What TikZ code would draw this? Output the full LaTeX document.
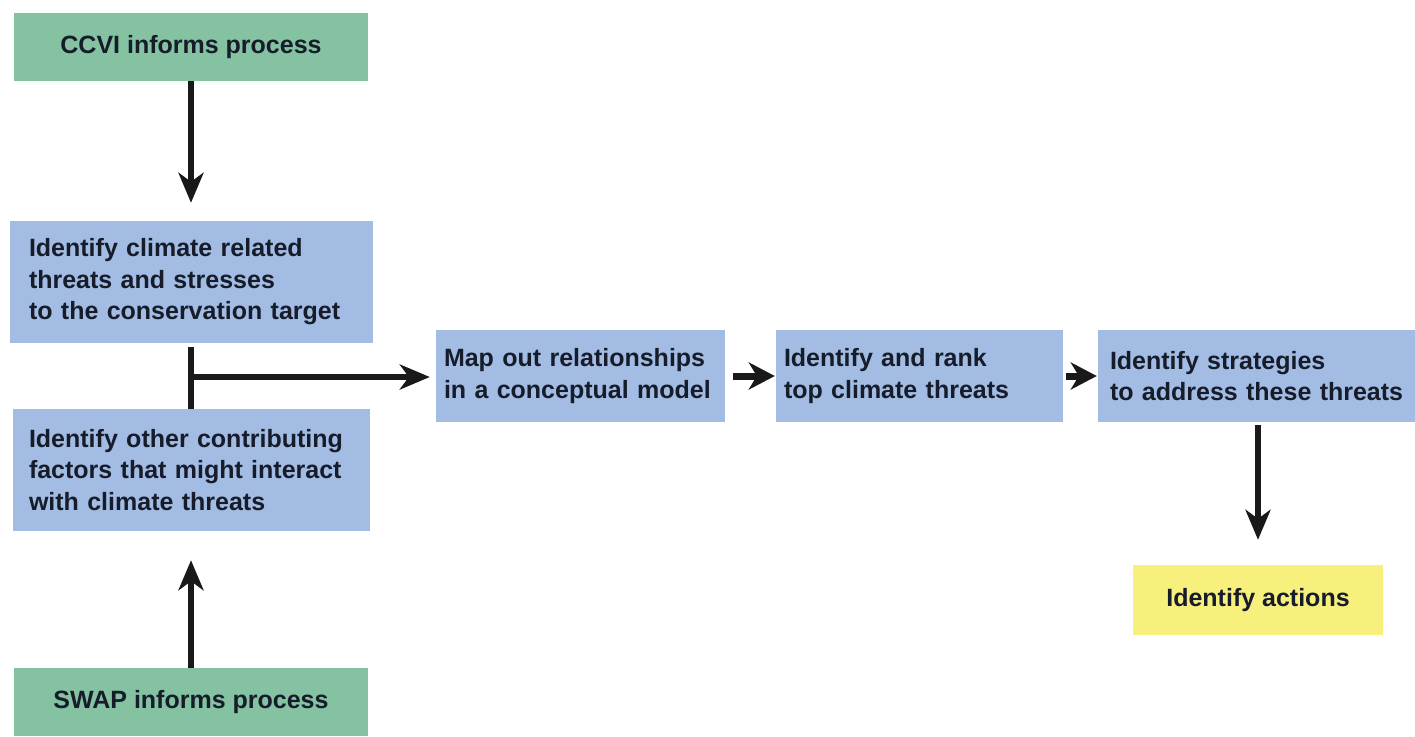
\documentclass[tikz,border=0pt]{standalone}
\usepackage{fontspec}
\setmainfont{Liberation Sans}
\usetikzlibrary{arrows.meta}
\definecolor{boxblue}{HTML}{A2BCE3}
\definecolor{boxgreen}{HTML}{84C2A2}
\definecolor{boxyellow}{HTML}{F7F07C}
\definecolor{txt}{HTML}{161C2A}
\tikzset{
  base/.style={rectangle, inner sep=0pt, text=txt, font=\bfseries\fontsize{25}{31.5}\selectfont},
  bluebox/.style={base, fill=boxblue},
  greenbox/.style={base, fill=boxgreen, align=center},
  yellowbox/.style={base, fill=boxyellow, align=center},
  conn/.style={line width=6pt, draw=black!90, -{Stealth[length=30pt,width=25pt,inset=9pt]}},
  shortconn/.style={line width=7pt, draw=black!90, -{Stealth[length=26pt,width=27pt,inset=8pt]}},
  plainconn/.style={line width=6pt, draw=black!90}
}
\begin{document}
\begin{tikzpicture}[x=1pt,y=-1pt]
\useasboundingbox (0,0) rectangle (1415,736);
\node[greenbox, minimum width=354pt, minimum height=68pt] (ccvi) at (191,47) {CCVI informs process};
\node[bluebox, minimum width=363pt, minimum height=122pt, text width=325pt, align=left] (clim) at (191.5,282)
  {Identify climate related\\threats and stresses\\to the conservation target};
\node[bluebox, minimum width=357pt, minimum height=122pt, text width=325pt, align=left] (other) at (191.5,470)
  {Identify other contributing\\factors that might interact\\with climate threats};
\node[greenbox, minimum width=354pt, minimum height=68pt] (swap) at (191,702) {SWAP informs process};
\node[bluebox, minimum width=289pt, minimum height=92pt, text width=273pt, align=left] (map) at (580.5,376)
  {Map out relationships\\in a conceptual model};
\node[bluebox, minimum width=287pt, minimum height=92pt, text width=271pt, align=left] (rank) at (919.5,376)
  {Identify and rank\\top climate threats};
\node[bluebox, minimum width=322pt, minimum height=92pt, text width=298pt, align=left] (strat) at (1259,376)
  {Identify strategies\\to address these threats};
\node[yellowbox, minimum width=250pt, minimum height=70pt] (act) at (1258,600) {Identify actions};
\coordinate (junc) at (191,377);
\draw[conn, shorten >=18pt] (ccvi.south) -- (ccvi.south |- clim.north);
\draw[conn, shorten >=29pt] (swap.north) -- (swap.north |- other.south);
\draw[plainconn, shorten <=4pt] (junc |- clim.south) -- (junc |- other.north);
\draw[conn, shorten >=6pt] (junc) -- (junc -| map.west);
\draw[shortconn, shorten <=8pt, shorten >=1pt] (map.east) -- (rank.west);
\draw[shortconn, shorten <=3pt, shorten >=1pt] (rank.east) -- (rank.east -| strat.west);
\draw[conn, shorten <=3pt, shorten >=25pt] (strat.south -| act.north) -- (act.north);
\end{tikzpicture}
\end{document}
